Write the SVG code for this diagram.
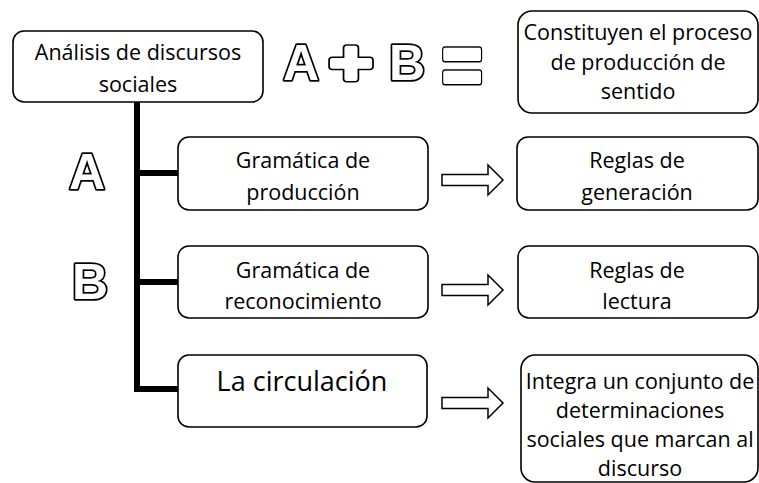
<svg xmlns="http://www.w3.org/2000/svg" width="759" height="483" viewBox="0 0 759 483">
<style>
.box{fill:#fff;stroke:#000;stroke-width:1.6}
.t{font-family:"Open Sans","Liberation Sans",sans-serif;font-size:21.5px;fill:#000;text-anchor:middle}
.big{font-size:27px}
.arr{fill:#fff;stroke:#000;stroke-width:1.5;stroke-linejoin:miter}
.conn{stroke:#000;stroke-width:6;fill:none;stroke-linecap:butt;stroke-linejoin:miter}
.let{font-family:"Liberation Sans",Arial,sans-serif;font-weight:bold;font-size:50px;text-anchor:middle;fill:#fff;stroke:#000;stroke-width:3.5;stroke-linejoin:round;paint-order:stroke}
.ol{font-family:"Liberation Sans",Arial,sans-serif;font-weight:bold;text-anchor:middle;fill:#000;stroke:#000;stroke-width:7;stroke-linejoin:round}
.in{font-family:"Liberation Sans",Arial,sans-serif;font-weight:bold;text-anchor:middle;fill:#fff;stroke:#fff;stroke-width:4;stroke-linejoin:round}
</style>
<defs>
<path id="arrow" d="M0,-5.5 H46 V-15 L61,0 L46,15 V5.5 H0 Z"/>
</defs>

<g id="connectors">
<path class="conn" d="M137,102 V389 H178"/>
<path class="conn" d="M137,173 H178"/>
<path class="conn" d="M137,282 H178"/>
<use href="#arrow" class="arr" x="442" y="180"/>
<use href="#arrow" class="arr" x="442" y="290"/>
<use href="#arrow" class="arr" x="442" y="403"/>
</g>

<g id="n-analisis">
<rect class="box" x="13" y="31" width="250" height="71" rx="11"/>
<text class="t" x="138" y="60">Análisis de discursos</text>
<text class="t" x="138" y="92">sociales</text>
</g>

<g id="n-formula">
<text class="let" x="301" y="80">A</text>
<g transform="translate(351,62) scale(1.2,1)">
<text class="ol" x="0" y="22" font-size="62">+</text>
<text class="in" x="0" y="22" font-size="62">+</text>
</g>
<text class="let" x="407" y="80">B</text>
<g transform="translate(462,64) scale(0.8,1)">
<text class="ol" x="0" y="30" font-size="86">=</text>
<text class="in" x="0" y="30" font-size="86">=</text>
</g>
</g>

<g id="n-constituyen">
<rect class="box" x="518" y="11" width="240" height="102" rx="14"/>
<text class="t" x="638" y="40">Constituyen el proceso</text>
<text class="t" x="638" y="70">de producción de</text>
<text class="t" x="638" y="99">sentido</text>
</g>

<g id="n-A">
<text class="let" x="87" y="189">A</text>
</g>
<g id="n-B">
<text class="let" x="90" y="299">B</text>
</g>

<g id="n-gram-prod">
<rect class="box" x="178" y="137" width="250" height="73" rx="11"/>
<text class="t" x="303" y="168">Gramática de</text>
<text class="t" x="303" y="200">producción</text>
</g>

<g id="n-reglas-gen">
<rect class="box" x="517" y="137" width="241" height="73" rx="11"/>
<text class="t" x="637" y="168">Reglas de</text>
<text class="t" x="637" y="200">generación</text>
</g>

<g id="n-gram-rec">
<rect class="box" x="178" y="246" width="250" height="72" rx="11"/>
<text class="t" x="303" y="278">Gramática de</text>
<text class="t" x="303" y="309">reconocimiento</text>
</g>

<g id="n-reglas-lec">
<rect class="box" x="518" y="246" width="240" height="72" rx="11"/>
<text class="t" x="637" y="278">Reglas de</text>
<text class="t" x="637" y="309">lectura</text>
</g>

<g id="n-circulacion">
<rect class="box" x="178" y="355" width="249" height="72" rx="11"/>
<text class="t big" x="302" y="391">La circulación</text>
</g>

<g id="n-integra">
<rect class="box" x="521" y="355" width="237" height="127" rx="14"/>
<text class="t" x="640" y="389">Integra un conjunto de</text>
<text class="t" x="640" y="418">determinaciones</text>
<text class="t" x="640" y="447">sociales que marcan al</text>
<text class="t" x="640" y="476">discurso</text>
</g>
</svg>
